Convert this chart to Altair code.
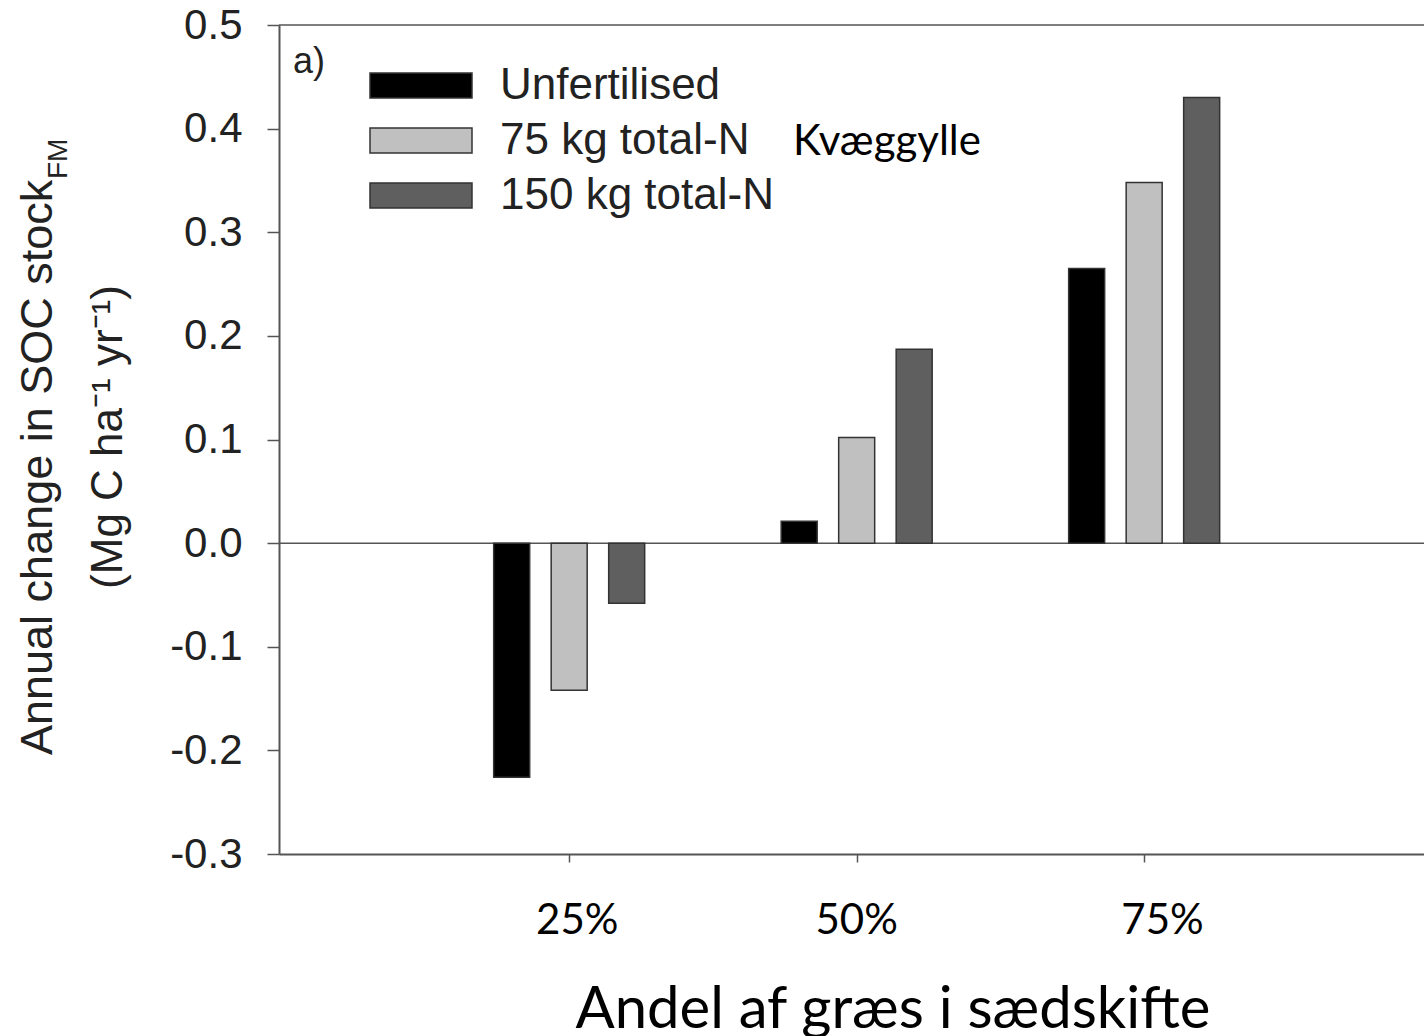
import altair as alt
import pandas as pd

# ---- data ----
groups = [25, 50, 75]
series = ["Unfertilised", "75 kg total-N", "150 kg total-N"]
unfertilised = [-0.226, 0.021, 0.265]
n75 = [-0.142, 0.102, 0.348]
n150 = [-0.058, 0.187, 0.430]
colors = ["#000000", "#c0c0c0", "#5f5f5f"]
y_ticks = [-0.3, -0.2, -0.1, 0.0, 0.1, 0.2, 0.3, 0.4, 0.5]
x_ticks = [25, 50, 75]
x_tick_labels = ["25%", "50%", "75%"]
x_label_pos = [25.7, 50.0, 76.6]
x_title = ["Andel af græs i sædskifte"]
y_title1 = ["Annual change in SOC stock"]
y_title_sub = ["FM"]
y_title2 = ["(Mg C ha⁻¹ yr⁻¹)"]
panel_label = ["a)"]
note = ["Kvæggylle"]
ref_lines = [0.0, 0.5]

offsets = [-5, 0, 5]
rows = []
for s, vals, off in zip(series, [unfertilised, n75, n150], offsets):
    for g, v in zip(groups, vals):
        rows.append({"group": g, "series": s, "value": v, "xpos": g + off})
df = pd.DataFrame(rows)

W, H = 1145, 829
x_scale = alt.Scale(domain=[0.2, 98.9], nice=False, zero=False)
y_scale = alt.Scale(domain=[-0.3, 0.5], nice=False, zero=False)

rules = alt.Chart(pd.DataFrame({"y": ref_lines})).mark_rule(
    color="#555555", strokeWidth=1.5
).encode(y=alt.Y("y:Q", scale=y_scale))

bars = alt.Chart(df).mark_bar(size=36, stroke="#333333", strokeWidth=1.5, opacity=1).encode(
    x=alt.X(
        "xpos:Q",
        scale=x_scale,
        axis=alt.Axis(
            values=x_ticks,
            labels=False,
            grid=False,
            domainColor="#555555",
            domainWidth=2,
            tickColor="#555555",
            tickWidth=1.5,
            tickSize=8,
            title=None,
        ),
    ),
    y=alt.Y(
        "value:Q",
        scale=y_scale,
        axis=alt.Axis(
            values=y_ticks,
            labelExpr="replace(format(datum.value, '.1f'), '\u2212', '-')",
            grid=False,
            domainColor="#555555",
            domainWidth=2,
            tickColor="#555555",
            tickWidth=1.5,
            tickSize=12,
            labelFont="Liberation Sans",
            labelFontSize=42,
            labelColor="#222222",
            labelPadding=25,
            title=None,
        ),
    ),
    fill=alt.Fill(
        "series:N",
        sort=series,
        scale=alt.Scale(domain=series, range=colors),
        legend=None,
    ),
)

xlabels = alt.Chart(pd.DataFrame({"pos": x_label_pos, "lab": x_tick_labels})).mark_text(
    font="Lato", fontSize=42, color="#000000", baseline="middle", align="center"
).encode(x=alt.X("pos:Q", scale=x_scale), y=alt.value(896), text="lab:N")


def txt(values, **kw):
    return alt.Chart(pd.DataFrame({"t": values})).mark_text(**kw).encode(text="t:N")


xtitle = txt(x_title, align="center", baseline="alphabetic",
             font="Lato", fontSize=58, color="#000000").encode(
    x=alt.value(614), y=alt.value(1003))
ytitle1 = txt(y_title1, angle=270, align="left", baseline="alphabetic",
              font="Liberation Sans", fontSize=45, color="#222222").encode(
    x=alt.value(-227), y=alt.value(730))
ytitle_sub = txt(y_title_sub, angle=270, align="left", baseline="alphabetic",
                 font="Liberation Sans", fontSize=28, color="#222222").encode(
    x=alt.value(-212), y=alt.value(154))
ytitle2 = txt(y_title2, angle=270, align="center", baseline="alphabetic",
              font="Liberation Sans", fontSize=44, color="#222222").encode(
    x=alt.value(-157), y=alt.value(412))
plabel = txt(panel_label, align="left", baseline="middle",
             font="Liberation Sans", fontSize=36, color="#222222").encode(
    x=alt.value(14), y=alt.value(37))
knote = txt(note, align="left", baseline="middle",
            font="Lato", fontSize=42, color="#000000").encode(
    x=alt.value(514), y=alt.value(117))

# legend (drawn manually to match the wide flat swatches)
legend_layers = []
for i, (s, c) in enumerate(zip(series, colors)):
    top = 48 + 55 * i
    sw = alt.Chart(pd.DataFrame({"s": [s]})).mark_rect(
        fill=c, stroke="#333333", strokeWidth=1.5
    ).encode(x=alt.value(91), x2=alt.value(193), y=alt.value(top), y2=alt.value(top + 25))
    lb = txt([s], align="left", baseline="middle", font="Liberation Sans",
             fontSize=44, color="#222222").encode(x=alt.value(221), y=alt.value(top + 13))
    legend_layers += [sw, lb]

chart = alt.layer(
    rules, bars, xlabels, xtitle, ytitle1, ytitle_sub, ytitle2, plabel, knote, *legend_layers
).properties(
    width=W,
    height=H,
    autosize=alt.AutoSizeParams(type="none"),
    padding={"left": 279, "top": 25, "right": 0, "bottom": 182},
).configure_view(stroke=None)

chart.save("out.html", embed_options={"renderer": "svg", "actions": False})
